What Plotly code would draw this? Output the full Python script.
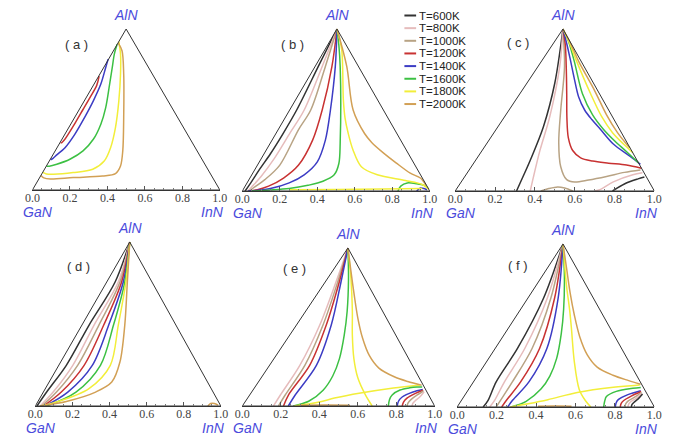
import plotly.graph_objects as go

W, H = 677, 439

TEMPS = ["T=600K", "T=800K", "T=1000K", "T=1200K", "T=1400K", "T=1600K", "T=1800K", "T=2000K"]
COLORS = ["#333333", "#e6bcbc", "#b8a384", "#c83232", "#3c3cc4", "#3cc043", "#f2ee3a", "#d2a055"]
TICK_VALS = [0.0, 0.2, 0.4, 0.6, 0.8, 1.0]
TICK_LABELS = ["0.0", "0.2", "0.4", "0.6", "0.8", "1.0"]
PANEL_LABELS = ["( a )", "( b )", "( c )", "( d )", "( e )", "( f )"]
APEX_X = [0.5, 0.505, 0.541, 0.509, 0.549, 0.537]

# ---------- panel (a): loops hugging the GaN-AlN edge (x along base, h = height fraction)
a_1200_x = [0.356, 0.343, 0.31, 0.27, 0.23, 0.193, 0.17, 0.157, 0.15]
a_1200_h = [0.707, 0.65, 0.58, 0.5, 0.42, 0.35, 0.31, 0.295, 0.292]
a_1400_x = [0.404, 0.391, 0.365, 0.325, 0.278, 0.226, 0.174, 0.13, 0.11, 0.097]
a_1400_h = [0.813, 0.761, 0.658, 0.554, 0.45, 0.346, 0.263, 0.218, 0.197, 0.188]
a_1600_x = [0.452, 0.437, 0.426, 0.412, 0.391, 0.365, 0.325, 0.27, 0.2, 0.13, 0.09, 0.075]
a_1600_h = [0.905, 0.844, 0.761, 0.658, 0.512, 0.409, 0.315, 0.243, 0.191, 0.16, 0.148, 0.148]
a_1800_x = [0.461, 0.47, 0.47, 0.461, 0.443, 0.417, 0.383, 0.322, 0.217, 0.113, 0.075, 0.056]
a_1800_h = [0.922, 0.844, 0.72, 0.554, 0.388, 0.263, 0.18, 0.129, 0.108, 0.098, 0.1, 0.11]
a_2000_x = [0.458, 0.478, 0.487, 0.487, 0.482, 0.47, 0.443, 0.374, 0.217, 0.096, 0.061, 0.046]
a_2000_h = [0.912, 0.865, 0.72, 0.45, 0.243, 0.149, 0.102, 0.087, 0.077, 0.068, 0.075, 0.09]

# ---------- panel (b)
b_600_x = [0.505, 0.41, 0.29, 0.215, 0.15, 0.09, 0.045, 0.015]
b_600_h = [1, 0.78, 0.5, 0.35, 0.23, 0.13, 0.05, 0]
b_800_x = [0.505, 0.426, 0.33, 0.25, 0.17, 0.1, 0.05, 0.03]
b_800_h = [1, 0.769, 0.5, 0.35, 0.2, 0.09, 0.025, 0]
b_1000_x = [0.505, 0.443, 0.365, 0.3, 0.2, 0.12, 0.06, 0.035]
b_1000_h = [1, 0.769, 0.5, 0.379, 0.16, 0.07, 0.02, 0]
b_1200_x = [0.505, 0.478, 0.426, 0.375, 0.3, 0.22, 0.14, 0.08, 0.04]
b_1200_h = [1, 0.769, 0.5, 0.314, 0.16, 0.08, 0.03, 0.008, 0]
b_1400_x = [0.505, 0.496, 0.47, 0.443, 0.4, 0.33, 0.25, 0.15, 0.07, 0.03]
b_1400_h = [1, 0.769, 0.5, 0.314, 0.18, 0.1, 0.05, 0.015, 0.003, 0]
b_1600_x = [0.505, 0.515, 0.522, 0.522, 0.515, 0.49, 0.43, 0.35, 0.25, 0.15, 0.05]
b_1600_h = [1, 0.9, 0.769, 0.3, 0.17, 0.1, 0.06, 0.035, 0.015, 0.006, 0]
b_1600b_x = [0.83, 0.845, 0.88, 0.93, 0.97, 0.99]
b_1600b_h = [0, 0.03, 0.05, 0.045, 0.035, 0.02]
b_1400b_x = [0.93, 0.95, 0.97, 0.985]
b_1400b_h = [0, 0.018, 0.015, 0.008]
b_1800_x = [0.505, 0.53, 0.539, 0.548, 0.565, 0.59, 0.635, 0.72, 0.87, 0.96, 0.995]
b_1800_h = [1, 0.872, 0.562, 0.45, 0.355, 0.255, 0.15, 0.1, 0.065, 0.04, 0.01]
b_1800b_x = [0.25, 0.5, 0.75, 0.96]
b_1800b_h = [0.008, 0.01, 0.012, 0.015]
b_2000_x = [0.505, 0.557, 0.591, 0.652, 0.69, 0.757, 0.82, 0.896, 0.95, 0.98]
b_2000_h = [1, 0.769, 0.5, 0.355, 0.3, 0.231, 0.174, 0.11, 0.08, 0.035]

# ---------- panel (c)
c_600_x = [0.541, 0.5, 0.443, 0.377, 0.33, 0.308]
c_600_h = [1, 0.665, 0.397, 0.19, 0.06, 0]
c_600b_x = [0.79, 0.852, 0.918, 0.95]
c_600b_h = [0, 0.045, 0.075, 0.087]
c_800_x = [0.541, 0.525, 0.475, 0.426, 0.393, 0.377]
c_800_h = [1, 0.769, 0.459, 0.252, 0.087, 0]
c_800b_x = [0.7, 0.73, 0.794, 0.892, 0.94]
c_800b_h = [0, 0.01, 0.056, 0.1, 0.112]
c_1000_x = [0.541, 0.549, 0.53, 0.52, 0.53, 0.56, 0.6, 0.67, 0.76, 0.85, 0.93]
c_1000_h = [1, 0.769, 0.5, 0.3, 0.15, 0.07, 0.055, 0.068, 0.09, 0.115, 0.13]
c_1000b_x = [0.43, 0.47, 0.515, 0.55, 0.59]
c_1000b_h = [0, 0.015, 0.025, 0.018, 0]
c_1200_x = [0.541, 0.553, 0.558, 0.56, 0.561, 0.568, 0.59, 0.63, 0.69, 0.77, 0.86, 0.935]
c_1200_h = [1, 0.9, 0.75, 0.6, 0.45, 0.33, 0.25, 0.205, 0.185, 0.172, 0.16, 0.14]
c_1400_x = [0.541, 0.562, 0.58, 0.597, 0.62, 0.65, 0.686, 0.73, 0.794, 0.877, 0.93]
c_1400_h = [1, 0.9, 0.8, 0.7, 0.58, 0.5, 0.441, 0.38, 0.29, 0.215, 0.165]
c_1600_x = [0.541, 0.57, 0.598, 0.639, 0.69, 0.745, 0.8, 0.858, 0.92]
c_1600_h = [1, 0.92, 0.8, 0.6, 0.47, 0.38, 0.31, 0.245, 0.174]
c_1800_x = [0.541, 0.575, 0.61, 0.68, 0.735, 0.79, 0.845, 0.892]
c_1800_h = [1, 0.91, 0.8, 0.6, 0.46, 0.36, 0.29, 0.236]
c_2000_x = [0.541, 0.58, 0.62, 0.7, 0.76, 0.815, 0.86, 0.877]
c_2000_h = [1, 0.91, 0.8, 0.62, 0.47, 0.36, 0.29, 0.267]

# ---------- panel (d)
d_h = [1, 0.756, 0.492, 0.248, 0.085, 0]
d_600_x = [0.509, 0.43, 0.289, 0.167, 0.061, 0.009]
d_800_x = [0.509, 0.447, 0.316, 0.202, 0.096, 0.026]
d_1000_x = [0.509, 0.456, 0.342, 0.228, 0.114, 0.035]
d_1200_x = [0.509, 0.465, 0.368, 0.263, 0.14, 0.044]
d_1400_x = [0.509, 0.474, 0.395, 0.307, 0.175, 0.053]
d_1600_x = [0.509, 0.482, 0.421, 0.351, 0.219, 0.061]
d_1800_x = [0.509, 0.488, 0.447, 0.404, 0.289, 0.114, 0.026]
d_1800_h = [1, 0.756, 0.492, 0.248, 0.106, 0.024, 0]
d_2000_x = [0.509, 0.496, 0.482, 0.456, 0.412, 0.325, 0.167, 0.026]
d_2000_h = [1, 0.756, 0.492, 0.268, 0.146, 0.085, 0.028, 0]
d_2000b_x = [0.93, 0.945, 0.965, 0.985]
d_2000b_h = [0, 0.015, 0.015, 0.005]

# ---------- panel (e)
e_fan_h = [1, 0.785, 0.511, 0.257, 0.068, 0]
e_800_x = [0.549, 0.487, 0.402, 0.299, 0.197, 0.162]
e_1000_x = [0.549, 0.496, 0.419, 0.325, 0.222, 0.188]
e_1200_x = [0.549, 0.504, 0.436, 0.35, 0.239, 0.214]
e_1400_x = [0.549, 0.513, 0.462, 0.385, 0.274, 0.239]
e_1600_x = [0.549, 0.552, 0.545, 0.53, 0.505, 0.47, 0.42, 0.345, 0.265]
e_1600_h = [1, 0.8, 0.6, 0.45, 0.3, 0.19, 0.1, 0.03, 0]
e_1800_x = [0.549, 0.565, 0.572, 0.572, 0.58, 0.6, 0.64, 0.675]
e_1800_h = [1, 0.8, 0.6, 0.45, 0.3, 0.18, 0.07, 0]
e_1800b_x = [0.27, 0.4, 0.479, 0.615, 0.786, 0.923]
e_1800b_h = [0, 0.025, 0.05, 0.082, 0.114, 0.133]
e_2000_x = [0.549, 0.565, 0.582, 0.6, 0.625, 0.66, 0.71, 0.79, 0.86, 0.932]
e_2000_h = [1, 0.85, 0.7, 0.56, 0.43, 0.32, 0.24, 0.185, 0.155, 0.131]
e_2000b_x = [0.3, 0.43, 0.56]
e_2000b_h = [0.005, 0.006, 0.005]
e_1600b_x = [0.759, 0.765, 0.779, 0.82, 0.87, 0.908, 0.935]
e_1600b_h = [0, 0.04, 0.07, 0.101, 0.115, 0.12, 0.12]
e_1400b_x = [0.805, 0.812, 0.831, 0.887, 0.938]
e_1400b_h = [0, 0.03, 0.057, 0.089, 0.105]
e_1200b_x = [0.831, 0.838, 0.856, 0.9, 0.94]
e_1200b_h = [0, 0.025, 0.05, 0.08, 0.1]
e_1000b_x = [0.856, 0.862, 0.878, 0.91, 0.942]
e_1000b_h = [0, 0.02, 0.042, 0.07, 0.095]
e_800b_x = [0.882, 0.887, 0.9, 0.925, 0.945]
e_800b_h = [0, 0.018, 0.035, 0.06, 0.09]

# ---------- panel (f)
f_fan_h = [1, 0.667, 0.359, 0.154, 0.041, 0]
f_600_x = [0.537, 0.438, 0.306, 0.198, 0.157, 0.132]
f_800_x = [0.537, 0.457, 0.343, 0.24, 0.19, 0.165]
f_1000_x = [0.537, 0.475, 0.38, 0.28, 0.22, 0.198]
f_1200_x = [0.537, 0.494, 0.418, 0.322, 0.25, 0.226]
f_1400_x = [0.537, 0.512, 0.455, 0.364, 0.281, 0.256]
f_1600_x = [0.537, 0.544, 0.54, 0.528, 0.505, 0.47, 0.425, 0.35, 0.273]
f_1600_h = [1, 0.8, 0.6, 0.45, 0.3, 0.19, 0.11, 0.035, 0]
f_1800_x = [0.537, 0.554, 0.57, 0.579, 0.594, 0.619, 0.65, 0.678]
f_1800_h = [1, 0.75, 0.6, 0.49, 0.28, 0.108, 0.04, 0]
f_1800b_x = [0.27, 0.36, 0.46, 0.609, 0.792, 0.926]
f_1800b_h = [0, 0.02, 0.045, 0.089, 0.121, 0.135]
f_2000_x = [0.537, 0.555, 0.573, 0.595, 0.622, 0.66, 0.71, 0.79, 0.87, 0.93]
f_2000_h = [1, 0.85, 0.7, 0.56, 0.43, 0.32, 0.245, 0.195, 0.162, 0.14]
f_2000b_x = [0.41, 0.5, 0.58]
f_2000b_h = [0.005, 0.006, 0.005]
f_1600b_x = [0.743, 0.748, 0.757, 0.807, 0.891, 0.931]
f_1600b_h = [0, 0.035, 0.064, 0.096, 0.115, 0.12]
f_1400b_x = [0.802, 0.806, 0.817, 0.866, 0.931]
f_1400b_h = [0, 0.025, 0.045, 0.076, 0.1]
f_1200b_x = [0.827, 0.832, 0.845, 0.885, 0.933]
f_1200b_h = [0, 0.022, 0.04, 0.068, 0.095]
f_1000b_x = [0.851, 0.855, 0.866, 0.9, 0.935]
f_1000b_h = [0, 0.02, 0.036, 0.06, 0.09]
f_800b_x = [0.866, 0.87, 0.88, 0.91, 0.937]
f_800b_h = [0, 0.018, 0.032, 0.055, 0.085]
f_600b_x = [0.883, 0.887, 0.896, 0.918, 0.94]
f_600b_h = [0, 0.016, 0.028, 0.05, 0.08]

# (panel index, temperature index, x, h)
CURVES = [
    (0, 3, a_1200_x, a_1200_h), (0, 4, a_1400_x, a_1400_h), (0, 5, a_1600_x, a_1600_h),
    (0, 6, a_1800_x, a_1800_h), (0, 7, a_2000_x, a_2000_h),
    (1, 0, b_600_x, b_600_h), (1, 1, b_800_x, b_800_h), (1, 2, b_1000_x, b_1000_h),
    (1, 3, b_1200_x, b_1200_h), (1, 4, b_1400_x, b_1400_h), (1, 5, b_1600_x, b_1600_h),
    (1, 5, b_1600b_x, b_1600b_h), (1, 4, b_1400b_x, b_1400b_h), (1, 6, b_1800_x, b_1800_h),
    (1, 6, b_1800b_x, b_1800b_h), (1, 7, b_2000_x, b_2000_h),
    (2, 0, c_600_x, c_600_h), (2, 0, c_600b_x, c_600b_h), (2, 1, c_800_x, c_800_h),
    (2, 1, c_800b_x, c_800b_h), (2, 2, c_1000_x, c_1000_h), (2, 2, c_1000b_x, c_1000b_h),
    (2, 3, c_1200_x, c_1200_h), (2, 4, c_1400_x, c_1400_h), (2, 5, c_1600_x, c_1600_h),
    (2, 6, c_1800_x, c_1800_h), (2, 7, c_2000_x, c_2000_h),
    (3, 0, d_600_x, d_h), (3, 1, d_800_x, d_h), (3, 2, d_1000_x, d_h), (3, 3, d_1200_x, d_h),
    (3, 4, d_1400_x, d_h), (3, 5, d_1600_x, d_h), (3, 6, d_1800_x, d_1800_h),
    (3, 7, d_2000_x, d_2000_h), (3, 7, d_2000b_x, d_2000b_h),
    (4, 1, e_800_x, e_fan_h), (4, 2, e_1000_x, e_fan_h), (4, 3, e_1200_x, e_fan_h),
    (4, 4, e_1400_x, e_fan_h), (4, 5, e_1600_x, e_1600_h), (4, 6, e_1800_x, e_1800_h),
    (4, 6, e_1800b_x, e_1800b_h), (4, 7, e_2000_x, e_2000_h), (4, 7, e_2000b_x, e_2000b_h),
    (4, 5, e_1600b_x, e_1600b_h), (4, 4, e_1400b_x, e_1400b_h), (4, 3, e_1200b_x, e_1200b_h),
    (4, 2, e_1000b_x, e_1000b_h), (4, 1, e_800b_x, e_800b_h),
    (5, 0, f_600_x, f_fan_h), (5, 1, f_800_x, f_fan_h), (5, 2, f_1000_x, f_fan_h),
    (5, 3, f_1200_x, f_fan_h), (5, 4, f_1400_x, f_fan_h), (5, 5, f_1600_x, f_1600_h),
    (5, 6, f_1800_x, f_1800_h), (5, 6, f_1800b_x, f_1800b_h), (5, 7, f_2000_x, f_2000_h),
    (5, 7, f_2000b_x, f_2000b_h), (5, 5, f_1600b_x, f_1600b_h), (5, 4, f_1400b_x, f_1400b_h),
    (5, 3, f_1200b_x, f_1200b_h), (5, 2, f_1000b_x, f_1000b_h), (5, 1, f_800b_x, f_800b_h),
    (5, 0, f_600b_x, f_600b_h),
]

# layout geometry in pixels: left (0.0), right (1.0), base y, apex y
GEOM = [(25, 217, 190, 29), (240, 432, 191, 29), (458, 662, 191, 29),
        (28, 218, 406, 242), (240, 437, 406, 248), (460, 662, 407, 244)]
LABEL_POS = [(0.234, 0.905), (0.27, 0.905), (0.314, 0.915), (0.233, 0.85), (0.27, 0.87), (0.31, 0.87)]
YTOP = 1.02

fig = go.Figure()
layout = {}
annotations = []
for i, (x0, x1, yb, ya) in enumerate(GEOM):
    n = "" if i == 0 else str(i + 1)
    hpx = yb - ya
    top_px = ya - (YTOP - 1) * hpx
    layout["xaxis" + n] = dict(
        domain=[x0 / W, x1 / W], range=[0, 1], anchor="y" + n,
        showgrid=False, zeroline=False, showline=True, linecolor="#333", linewidth=1,
        tickmode="array", tickvals=TICK_VALS, ticktext=TICK_LABELS,
        ticks="inside", ticklen=4, tickcolor="#555", ticklabelstandoff=-3,
        minor=dict(ticks="inside", dtick=0.05, tick0=0, ticklen=2, tickcolor="#777"),
        tickfont=dict(family="Liberation Serif", size=12, color="#444"),
        fixedrange=True,
    )
    layout["yaxis" + n] = dict(
        domain=[(H - yb) / H, (H - top_px) / H], range=[0, YTOP], anchor="x" + n,
        visible=False, fixedrange=True,
    )
    xr, yr = "x" + n, "y" + n
    ax = APEX_X[i]
    annotations += [
        dict(x=ax, y=1, xref=xr, yref=yr, text="<i>AlN</i>", showarrow=False, yshift=14,
             font=dict(family="Liberation Sans", size=14, color="#4b4bdc")),
        dict(x=0.03, y=0, xref=xr, yref=yr, text="<i>GaN</i>", showarrow=False, yshift=-22,
             font=dict(family="Liberation Sans", size=14, color="#4b4bdc")),
        dict(x=0.96, y=0, xref=xr, yref=yr, text="<i>InN</i>", showarrow=False, yshift=-22,
             font=dict(family="Liberation Sans", size=14, color="#4b4bdc")),
        dict(x=LABEL_POS[i][0], y=LABEL_POS[i][1], xref=xr, yref=yr, text=PANEL_LABELS[i],
             showarrow=False, font=dict(family="Liberation Sans", size=13, color="#333")),
    ]

for (p, t, xs, hs) in CURVES:
    n = "" if p == 0 else str(p + 1)
    fig.add_trace(go.Scatter(
        x=xs, y=hs, mode="lines", xaxis="x" + n, yaxis="y" + n,
        line=dict(color=COLORS[t], width=1.5, shape="spline", smoothing=0.9),
        showlegend=False, hoverinfo="skip"))

for i in range(6):
    n = "" if i == 0 else str(i + 1)
    fig.add_trace(go.Scatter(
        x=[0, APEX_X[i], 1, 0], y=[0, 1, 0, 0], mode="lines", xaxis="x" + n, yaxis="y" + n,
        line=dict(color="#333", width=1), showlegend=False, hoverinfo="skip"))

# manual compact legend
shapes = []
for k, name in enumerate(TEMPS):
    ypx = 15.5 + k * 12.65
    shapes.append(dict(type="line", xref="paper", yref="paper",
                       x0=406 / W, x1=418 / W, y0=(H - ypx) / H, y1=(H - ypx) / H,
                       line=dict(color=COLORS[k], width=2)))
    annotations.append(dict(x=420 / W, y=(H - ypx) / H, xref="paper", yref="paper",
                            text=name, showarrow=False, xanchor="left", yanchor="middle",
                            height=12, borderpad=0,
                            font=dict(family="Liberation Sans", size=11.5, color="#222")))

fig.update_layout(
    width=W, height=H, margin=dict(l=0, r=0, t=0, b=0),
    paper_bgcolor="white", plot_bgcolor="rgba(0,0,0,0)",
    annotations=annotations, shapes=shapes, showlegend=False, **layout)

fig.write_html("out.html", config={"displayModeBar": False},
               post_script="document.body.style.margin='0';document.body.style.padding='0';document.body.style.overflow='hidden';")
